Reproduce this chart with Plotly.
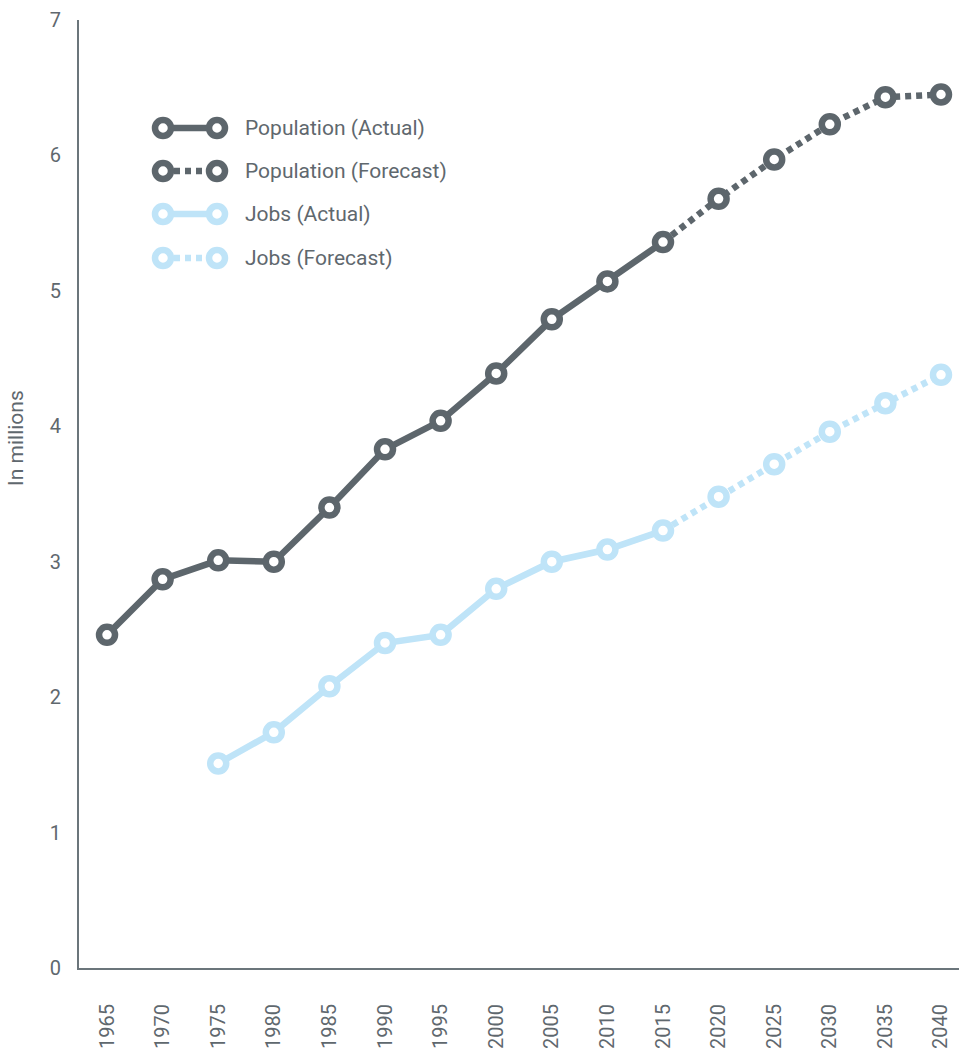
import plotly.graph_objects as go

# Data (millions)
years = [1965, 1970, 1975, 1980, 1985, 1990, 1995, 2000, 2005, 2010,
         2015, 2020, 2025, 2030, 2035, 2040]
population = [2.46, 2.87, 3.01, 3.00, 3.40, 3.83, 4.04, 4.39, 4.79, 5.07,
              5.36, 5.68, 5.97, 6.23, 6.43, 6.45]
jobs_years = [1975, 1980, 1985, 1990, 1995, 2000, 2005, 2010,
              2015, 2020, 2025, 2030, 2035, 2040]
jobs = [1.51, 1.74, 2.08, 2.40, 2.46, 2.80, 3.00, 3.09,
        3.23, 3.48, 3.72, 3.96, 4.17, 4.38]
last_actual = 2015

legend_labels = ["Population (Actual)", "Population (Forecast)",
                 "Jobs (Actual)", "Jobs (Forecast)"]
y_title = "In millions"

DARK = "#5d666c"
LIGHT = "#bfe4f8"
TEXT = "#5f686e"
FONT = "Roboto, Arial, sans-serif"
LW = 6.5
DASH = "6px,5px"

W, H = 959, 1050
M_L, M_R, M_T, M_B = 79, 0, 20, 82
PW, PH = W - M_L - M_R, H - M_T - M_B


def split(xs, ys):
    act = [(x, y) for x, y in zip(xs, ys) if x <= last_actual]
    fc = [(x, y) for x, y in zip(xs, ys) if x >= last_actual]
    return list(zip(*act)), list(zip(*fc))


def marker(color):
    return dict(symbol="circle", size=16, color="white",
                line=dict(color=color, width=6.5))


fig = go.Figure()

for xs, ys, color in [(years, population, DARK), (jobs_years, jobs, LIGHT)]:
    (ax, ay), (fx, fy) = split(xs, ys)
    fig.add_trace(go.Scatter(x=fx, y=fy, mode="lines", showlegend=False,
                             line=dict(color=color, width=LW, dash=DASH),
                             hoverinfo="skip"))
    fig.add_trace(go.Scatter(x=ax, y=ay, mode="lines", showlegend=False,
                             line=dict(color=color, width=LW),
                             hoverinfo="skip"))
    fig.add_trace(go.Scatter(x=xs, y=ys, mode="markers", showlegend=False,
                             marker=marker(color)))

# Overlay axis whose units are page pixels (y measured from the bottom),
# used for the legend glyphs.
legend_styles = [(DARK, None), (DARK, DASH), (LIGHT, None), (LIGHT, DASH)]
legend_rows = [128, 171, 214, 258]
for (color, dash), row, label in zip(legend_styles, legend_rows, legend_labels):
    yy = H - row
    fig.add_trace(go.Scatter(x=[163, 217], y=[yy, yy], mode="lines",
                             xaxis="x2", yaxis="y2", showlegend=False,
                             line=dict(color=color, width=LW, dash=dash),
                             hoverinfo="skip"))
    fig.add_trace(go.Scatter(x=[163, 217], y=[yy, yy], mode="markers",
                             xaxis="x2", yaxis="y2", showlegend=False,
                             marker=marker(color), hoverinfo="skip"))
    fig.add_annotation(x=243, y=yy, xref="x2", yref="y2", text=label,
                       showarrow=False, xanchor="left", yanchor="middle",
                       font=dict(family=FONT, size=21, color=TEXT))

# Rotated axis title, placed in paper units
fig.add_annotation(x=(16 - M_L) / PW, y=(H - 438 - M_B) / PH,
                   xref="paper", yref="paper", text=y_title,
                   textangle=-90, showarrow=False, xanchor="center",
                   yanchor="middle",
                   font=dict(family=FONT, size=21, color=TEXT))

fig.update_layout(
    width=W, height=H,
    margin=dict(l=M_L, r=M_R, t=M_T, b=M_B),
    plot_bgcolor="white", paper_bgcolor="white",
    showlegend=False,
    font=dict(family=FONT, color=TEXT),
    xaxis=dict(
        range=[1962.48, 2041.62], tickvals=years,
        ticktext=[str(y) for y in years], tickangle=-90,
        showgrid=False, zeroline=False, showline=True,
        linecolor="#6b757b", linewidth=2, ticks="",
        ticklabelstandoff=26,
        tickfont=dict(family=FONT, size=20, color=TEXT),
    ),
    yaxis=dict(
        range=[0, 7], dtick=1, showgrid=False, zeroline=False,
        showline=True, linecolor="#6b757b", linewidth=2, ticks="",
        ticklabelstandoff=12,
        tickfont=dict(family=FONT, size=20, color=TEXT),
    ),
    xaxis2=dict(domain=[0, 1], range=[M_L, W - M_R], overlaying="x",
                anchor="y2", visible=False, fixedrange=True),
    yaxis2=dict(domain=[0, 1], range=[M_B, H - M_T], overlaying="y",
                anchor="x2", visible=False, fixedrange=True),
)

fig.write_html("out.html")
